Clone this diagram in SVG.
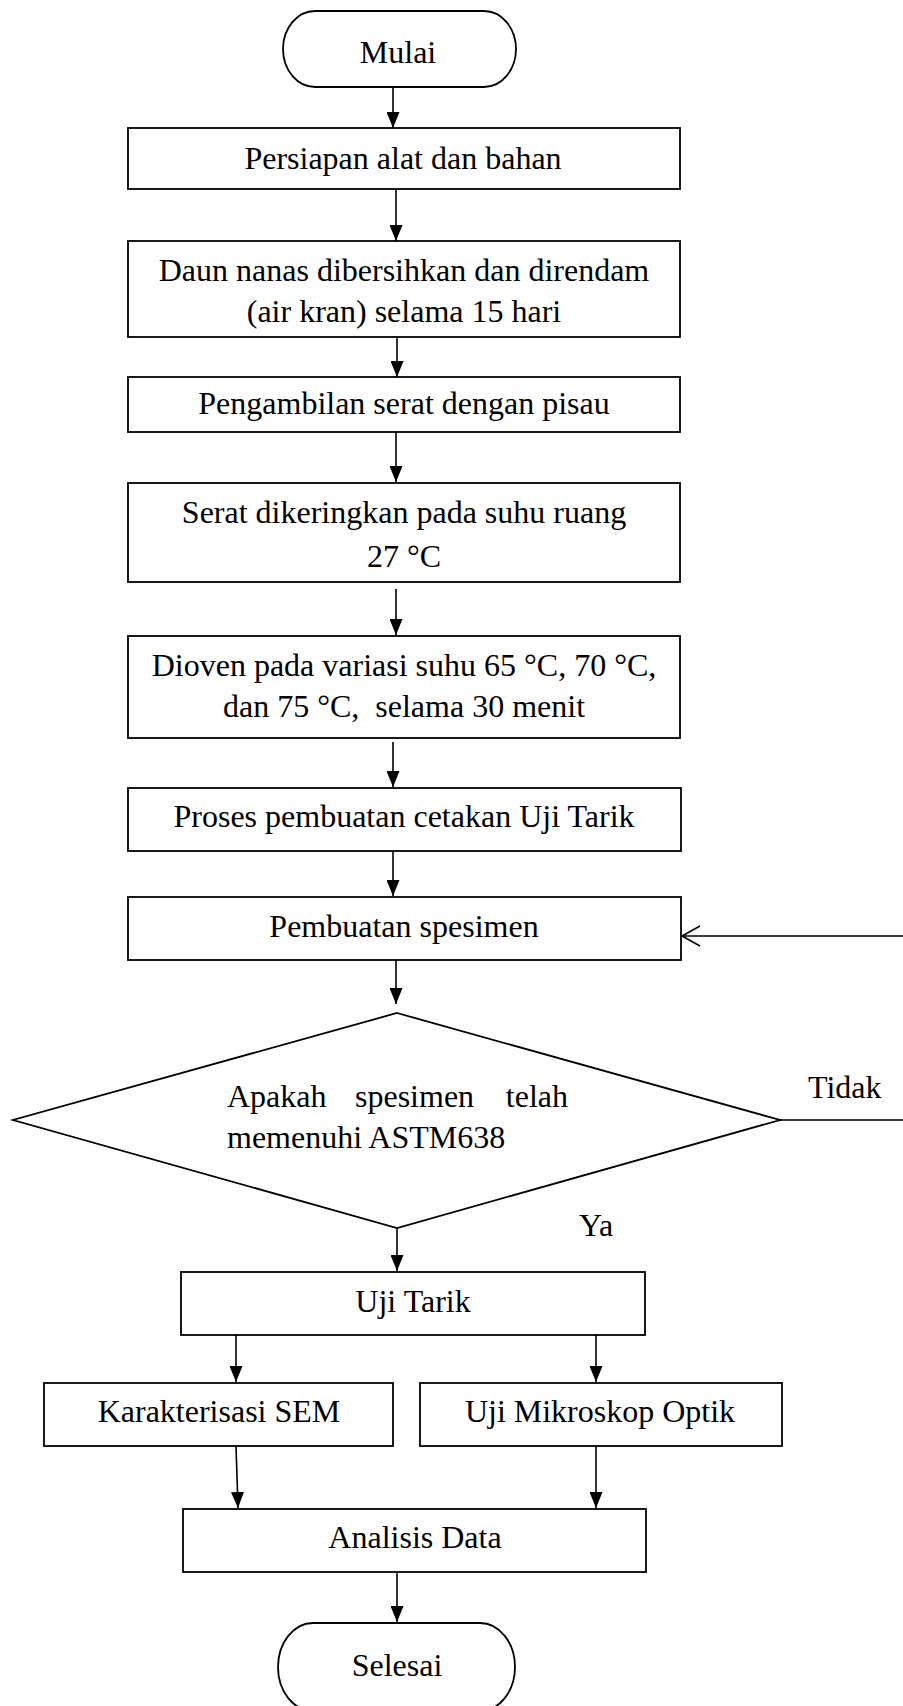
<svg xmlns="http://www.w3.org/2000/svg" width="903" height="1706" viewBox="0 0 903 1706">
<style>
.n{fill:#fff;stroke:#000;stroke-width:1.8}
.t{font-family:"Liberation Serif","Times New Roman",serif;font-size:32px;fill:#000}
.m{text-anchor:middle}
.c{stroke:#000;stroke-width:1.6;fill:none}
</style>
<defs>
<marker id="ah" markerUnits="userSpaceOnUse" markerWidth="16" markerHeight="13" refX="16" refY="6.5" orient="auto">
<path d="M0,0 L16,6.5 L0,13 z" fill="#000"/>
</marker>
</defs>
<rect width="903" height="1706" fill="#fff"/>
<g id="connectors">
<line class="c" x1="393" y1="88" x2="393" y2="128" marker-end="url(#ah)"/>
<line class="c" x1="396" y1="189" x2="396" y2="241" marker-end="url(#ah)"/>
<line class="c" x1="397" y1="337" x2="397" y2="377" marker-end="url(#ah)"/>
<line class="c" x1="396" y1="432" x2="396" y2="482" marker-end="url(#ah)"/>
<line class="c" x1="396" y1="589" x2="396" y2="635" marker-end="url(#ah)"/>
<line class="c" x1="393" y1="742" x2="393" y2="787" marker-end="url(#ah)"/>
<line class="c" x1="393" y1="851" x2="393" y2="896" marker-end="url(#ah)"/>
<line class="c" x1="396" y1="960" x2="396" y2="1004" marker-end="url(#ah)"/>
<line class="c" x1="397" y1="1228" x2="397" y2="1271" marker-end="url(#ah)"/>
<line class="c" x1="236" y1="1335" x2="236" y2="1382" marker-end="url(#ah)"/>
<line class="c" x1="596" y1="1335" x2="596" y2="1382" marker-end="url(#ah)"/>
<line class="c" x1="236" y1="1446" x2="238" y2="1508" marker-end="url(#ah)"/>
<line class="c" x1="596" y1="1446" x2="596" y2="1508" marker-end="url(#ah)"/>
<line class="c" x1="397" y1="1572" x2="397" y2="1622" marker-end="url(#ah)"/>
<line class="c" x1="780" y1="1120" x2="903" y2="1120"/>
<line class="c" x1="903" y1="936" x2="682" y2="936"/>
<polyline class="c" points="700,926 682,936 700,946"/>
<text class="t" x="808" y="1098">Tidak</text>
<text class="t" x="579" y="1236">Ya</text>
</g>
<g id="mulai">
<path class="n" d="M315,11 H484 A32,38 0 0 1 484,87 H315 A32,38 0 0 1 315,11 Z"/>
<text class="t m" x="398" y="63">Mulai</text>
</g>
<g id="persiapan">
<rect class="n" x="128" y="128" width="552" height="61"/>
<text class="t m" x="403" y="169">Persiapan alat dan bahan</text>
</g>
<g id="daun">
<rect class="n" x="128" y="241" width="552" height="96"/>
<text class="t m" x="404" y="281">Daun nanas dibersihkan dan direndam</text>
<text class="t m" x="404" y="322">(air kran) selama 15 hari</text>
</g>
<g id="pengambilan">
<rect class="n" x="128" y="377" width="552" height="55"/>
<text class="t m" x="404" y="414">Pengambilan serat dengan pisau</text>
</g>
<g id="serat">
<rect class="n" x="128" y="483" width="552" height="99"/>
<text class="t m" x="404" y="523">Serat dikeringkan pada suhu ruang</text>
<text class="t m" x="404" y="567">27 °C</text>
</g>
<g id="dioven">
<rect class="n" x="128" y="636" width="552" height="102"/>
<text class="t m" x="404" y="676">Dioven pada variasi suhu 65 °C, 70 °C,</text>
<text class="t m" x="404" y="717" xml:space="preserve">dan 75 °C,  selama 30 menit</text>
</g>
<g id="proses">
<rect class="n" x="128" y="788" width="553" height="63"/>
<text class="t m" x="404" y="827">Proses pembuatan cetakan Uji Tarik</text>
</g>
<g id="pembuatan">
<rect class="n" x="128" y="897" width="553" height="63"/>
<text class="t m" x="404" y="937">Pembuatan spesimen</text>
</g>
<g id="keputusan">
<polygon class="n" points="397,1013 780,1120 397,1228 13,1120"/>
<text class="t" x="227" y="1107">Apakah</text>
<text class="t" x="355" y="1107">spesimen</text>
<text class="t" x="568" y="1107" text-anchor="end">telah</text>
<text class="t" x="227" y="1148">memenuhi ASTM638</text>
</g>
<g id="ujitarik">
<rect class="n" x="181" y="1272" width="464" height="63"/>
<text class="t m" x="413" y="1312">Uji Tarik</text>
</g>
<g id="sem">
<rect class="n" x="44" y="1383" width="349" height="63"/>
<text class="t m" x="219" y="1422">Karakterisasi SEM</text>
</g>
<g id="mikroskop">
<rect class="n" x="420" y="1383" width="362" height="63"/>
<text class="t m" x="600" y="1422">Uji Mikroskop Optik</text>
</g>
<g id="analisis">
<rect class="n" x="183" y="1509" width="463" height="63"/>
<text class="t m" x="415" y="1548">Analisis Data</text>
</g>
<g id="selesai">
<path class="n" d="M313,1623 H480 A35,44 0 0 1 480,1711 H313 A35,44 0 0 1 313,1623 Z"/>
<text class="t m" x="397" y="1676">Selesai</text>
</g>
</svg>
